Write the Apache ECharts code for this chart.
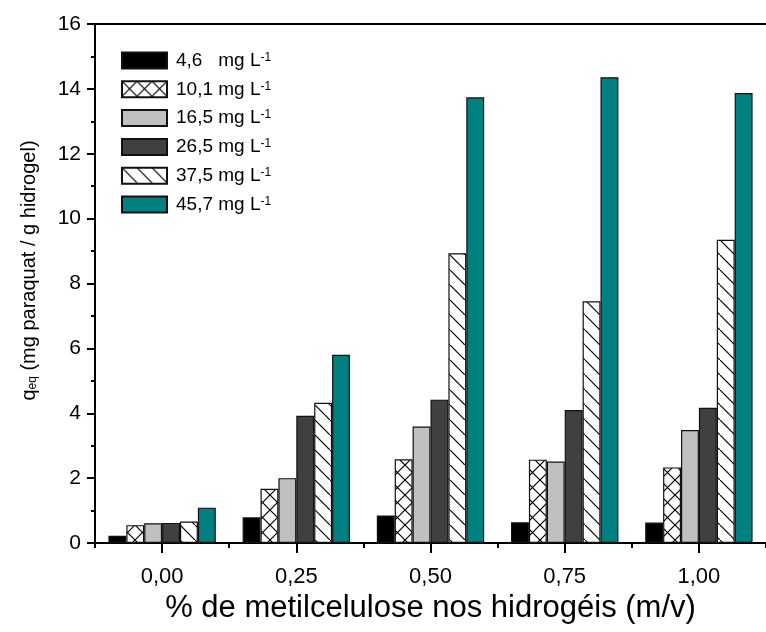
<!DOCTYPE html>
<html>
<head>
<meta charset="utf-8">
<script src="https://cdn.jsdelivr.net/npm/echarts@6/dist/echarts.min.js"></script>
<style>html,body{margin:0;padding:0;background:#fff}#c{width:766px;height:632px}</style>
</head>
<body>
<div id="c"></div>
<script>
const categories = ['0,00', '0,25', '0,50', '0,75', '1,00'];
const seriesNames = ['4,6   mg L', '10,1 mg L', '16,5 mg L', '26,5 mg L', '37,5 mg L', '45,7 mg L'];
const s46  = [0.22, 0.79, 0.85, 0.64, 0.63];
const s101 = [0.55, 1.67, 2.58, 2.57, 2.33];
const s165 = [0.61, 2.00, 3.59, 2.51, 3.48];
const s265 = [0.62, 3.92, 4.42, 4.10, 4.17];
const s375 = [0.66, 4.32, 8.93, 7.45, 9.35];
const s457 = [1.09, 5.80, 13.74, 14.36, 13.87];
const yTicks = [0, 2, 4, 6, 8, 10, 12, 14, 16];

function makePattern(kind) {
  const n = 15;
  const c = document.createElement('canvas');
  c.width = n; c.height = n;
  const g = c.getContext('2d');
  g.fillStyle = '#fff'; g.fillRect(0, 0, n, n);
  g.strokeStyle = '#000'; g.lineWidth = 1.2;
  g.beginPath();
  g.moveTo(-1, -1); g.lineTo(n + 1, n + 1);
  if (kind === 'cross') { g.moveTo(n + 1, -1); g.lineTo(-1, n + 1); }
  g.stroke();
  return { image: c, repeat: 'repeat' };
}

const fills = ['#000000', makePattern('cross'), '#c0c0c0', '#404040', makePattern('diag'), '#008080'];
const values = [s46, s101, s165, s265, s375, s457];

const font = 'Liberation Sans, Arial, sans-serif';
const chart = echarts.init(document.getElementById('c'), null, { renderer: 'canvas' });

const series = values.map((v, i) => ({
  name: seriesNames[i],
  type: 'bar',
  data: v,
  barGap: '0%',
  barCategoryGap: '20%',
  itemStyle: { color: fills[i], borderColor: '#111', borderWidth: 1.2 },
  emphasis: { disabled: true }
}));

chart.setOption({
  animation: false,
  backgroundColor: '#fff',
  grid: { left: 95, top: 24, width: 675, height: 519, containLabel: false },
  legend: {
    orient: 'vertical',
    left: 116, top: 46,
    itemWidth: 45, itemHeight: 16, itemGap: 9.8,
    icon: 'rect',
    selectedMode: false,
    data: seriesNames,
    formatter: name => '{a|' + name + '}{s|-1}',
    textStyle: {
      fontFamily: font, color: '#000',
      rich: {
        a: { fontSize: 19, lineHeight: 18, fontFamily: font, color: '#000', padding: [0, 0, 0, 4] },
        s: { fontSize: 12, lineHeight: 12, fontFamily: font, color: '#000', verticalAlign: 'top' }
      }
    }
  },
  xAxis: [{
    type: 'category',
    data: categories,
    boundaryGap: true,
    axisLine: { show: true, lineStyle: { color: '#000', width: 2 } },
    axisTick: { show: true, alignWithLabel: true, length: 10, lineStyle: { color: '#000', width: 2 } },
    axisLabel: { fontSize: 22, fontFamily: font, color: '#000', margin: 23 },
    name: '% de metilcelulose nos hidrogéis (m/v)',
    nameLocation: 'middle',
    nameGap: 41,
    nameTextStyle: { fontSize: 31, fontFamily: font, color: '#000' },
    splitLine: { show: false }
  }, {
    type: 'category',
    data: categories,
    position: 'bottom',
    boundaryGap: true,
    axisLine: { show: false },
    axisTick: { show: true, length: 5, lineStyle: { color: '#000', width: 2 } },
    axisLabel: { show: false },
    splitLine: { show: false }
  }, {
    type: 'category',
    data: categories,
    position: 'top',
    axisLine: { show: true, lineStyle: { color: '#000', width: 2 } },
    axisTick: { show: false },
    axisLabel: { show: false }
  }],
  yAxis: {
    type: 'value',
    min: yTicks[0], max: yTicks[yTicks.length - 1], interval: 2,
    axisLine: { show: true, lineStyle: { color: '#000', width: 2 } },
    axisTick: { show: true, length: 8, lineStyle: { color: '#000', width: 2 } },
    minorTick: { show: true, splitNumber: 2, length: 4, lineStyle: { color: '#000', width: 2 } },
    axisLabel: { fontSize: 21, fontFamily: font, color: '#000', margin: 14 },
    splitLine: { show: false },
    name: '{q|q}{e|eq}{n| (mg paraquat / g hidrogel)}',
    nameLocation: 'middle',
    nameGap: 56,
    nameRotate: 90,
    nameTextStyle: {
      fontFamily: font, color: '#000',
      rich: {
        q: { fontSize: 20, fontFamily: font, color: '#000', padding: [0, 0, 0, 26] },
        e: { fontSize: 12, fontFamily: font, color: '#000', verticalAlign: 'bottom' },
        n: { fontSize: 20, fontFamily: font, color: '#000' }
      }
    }
  },
  series: series
});
</script>
</body>
</html>
